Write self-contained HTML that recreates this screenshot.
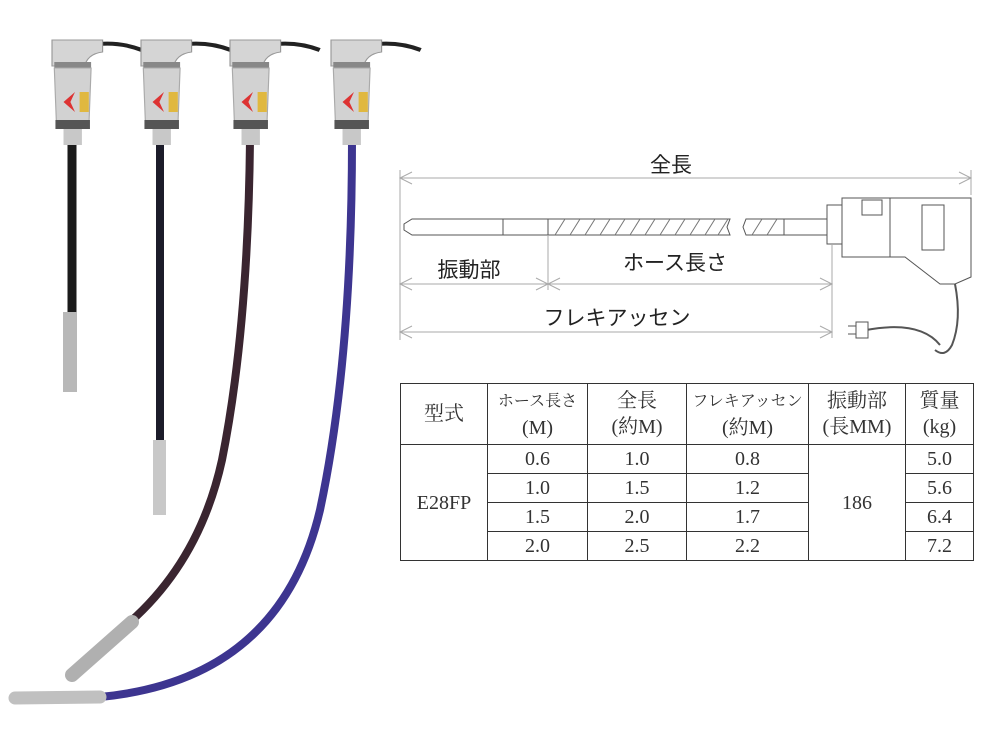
<!DOCTYPE html>
<html><head><meta charset="utf-8"><style>
html,body{margin:0;padding:0;background:#fff;width:1000px;height:750px;overflow:hidden}
svg{position:absolute;left:0;top:0}
table{position:absolute;left:400px;top:383px;border-collapse:collapse;font-family:"Liberation Serif","Noto Serif CJK SC",serif;color:#333}
td{border:1px solid #333;text-align:center;padding:0;font-size:20px;line-height:20px}
.h td{height:60px;font-size:20px;line-height:26px}
.r td{height:28px}
.sm{font-size:16px}
</style></head><body>
<svg width="1000" height="750" viewBox="0 0 1000 750">
<defs>
<g id="vib">
<path d="M40 4 Q60 2 78 10" stroke="#222" stroke-width="4" fill="none"/>
<path d="M0 0 H44 V12 Q30 14 28 28 L22 50 H12 V26 H0 Z" fill="#d5d5d5" stroke="#999"/>
<rect x="2" y="22" width="32" height="8" fill="#888"/>
<path d="M2 28 H34 L32 88 H4 Z" fill="#d2d2d2" stroke="#aaa"/>
<polygon points="20,52 10,62 20,72 16,62" fill="#d33"/>
<rect x="24" y="52" width="8" height="20" fill="#e0b840"/>
<rect x="3" y="80" width="30" height="9" fill="#555"/>
<rect x="10" y="89" width="16" height="16" fill="#c8c8c8"/>
</g>
</defs>
<path d="M72 140 L72 312" stroke="#1a1a1a" stroke-width="9"/>
<rect x="63" y="312" width="14" height="80" fill="#b8b8b8"/>
<path d="M160 140 L160 440" stroke="#1c1c2a" stroke-width="8"/>
<rect x="153" y="440" width="13" height="75" fill="#c8c8c8"/>
<path d="M250 140 Q248 330 222 460 Q200 560 130 622" stroke="#3a2530" stroke-width="8" fill="none"/>
<path d="M132 622 L72 675" stroke="#b0b0b0" stroke-width="14" stroke-linecap="round"/>
<path d="M352 140 Q352 360 320 510 Q280 680 100 697" stroke="#3d3590" stroke-width="8" fill="none"/>
<path d="M100 697 L15 698" stroke="#c0c0c0" stroke-width="13" stroke-linecap="round"/>
<use href="#vib" transform="translate(52,40) scale(1.15,1)"/>
<use href="#vib" transform="translate(141,40) scale(1.15,1)"/>
<use href="#vib" transform="translate(230,40) scale(1.15,1)"/>
<use href="#vib" transform="translate(331,40) scale(1.15,1)"/>
<g stroke="#aaa" stroke-width="1" fill="none">
<line x1="400" y1="178" x2="971" y2="178"/>
<path d="M412 172 L400 178 L412 184 M959 172 L971 178 L959 184"/>
<line x1="400" y1="170" x2="400" y2="340"/>
<line x1="971" y1="170" x2="971" y2="195"/>
<line x1="400" y1="284" x2="832" y2="284"/>
<path d="M412 278 L400 284 L412 290 M536 278 L548 284 L536 290 M560 278 L548 284 L560 290 M820 278 L832 284 L820 290"/>
<line x1="548" y1="236" x2="548" y2="290"/>
<line x1="400" y1="332" x2="832" y2="332"/>
<path d="M412 326 L400 332 L412 338 M820 326 L832 332 L820 338"/>
<line x1="832" y1="245" x2="832" y2="338"/>
</g>
<g stroke="#555" stroke-width="1" fill="#fff">
<path d="M412 219 H548 V235 H412 L404 230 V224 Z"/>
<line x1="503" y1="219" x2="503" y2="235"/>
<path d="M548 219 H730 L727 227 L730 235 H548 Z"/>
<path d="M746 219 H784 V235 H746 L743 227 Z"/>
<rect x="784" y="219" width="43" height="16"/>
<rect x="827" y="205" width="15" height="39"/>
<rect x="842" y="198" width="48" height="59"/>
<path d="M890 198 H971 V277 L955 284 H940 L905 257 H890 Z"/>
<rect x="862" y="200" width="20" height="15"/>
<rect x="922" y="205" width="22" height="45"/>
<path d="M955 284 Q962 320 952 345 Q945 358 935 350" fill="none" stroke-width="2"/>
<path d="M866 330 Q920 320 940 345" fill="none" stroke-width="2"/>
<rect x="856" y="322" width="12" height="16"/>
<line x1="848" y1="326" x2="856" y2="326"/><line x1="848" y1="334" x2="856" y2="334"/>
</g>
<g stroke="#777" stroke-width="1">
<path d="M555 235 L565 219 M570 235 L580 219 M585 235 L595 219 M600 235 L610 219 M615 235 L625 219 M630 235 L640 219 M645 235 L655 219 M660 235 L670 219 M675 235 L685 219 M690 235 L700 219 M705 235 L715 219 M718 235 L728 219 M752 235 L762 219 M767 235 L777 219"/>
</g>
<g font-family="Liberation Sans,'Noto Sans CJK JP',sans-serif" font-size="21" fill="#222" text-anchor="middle">
<text x="671" y="172">全長</text>
<text x="469" y="277">振動部</text>
<text x="675" y="270">ホース長さ</text>
<text x="617" y="325">フレキアッセン</text>
</g>
</svg>
<table>
<tr class="h"><td style="width:86px">型式</td><td style="width:99px"><span class="sm">ホース長さ</span><br>(M)</td><td style="width:98px">全長<br>(約M)</td><td style="width:121px"><span class="sm">フレキアッセン</span><br>(約M)</td><td style="width:96px">振動部<br>(長MM)</td><td style="width:67px">質量<br>(kg)</td></tr>
<tr class="r"><td rowspan="4">E28FP</td><td>0.6</td><td>1.0</td><td>0.8</td><td rowspan="4">186</td><td>5.0</td></tr>
<tr class="r"><td>1.0</td><td>1.5</td><td>1.2</td><td>5.6</td></tr>
<tr class="r"><td>1.5</td><td>2.0</td><td>1.7</td><td>6.4</td></tr>
<tr class="r"><td>2.0</td><td>2.5</td><td>2.2</td><td>7.2</td></tr>
</table>
</body></html>
